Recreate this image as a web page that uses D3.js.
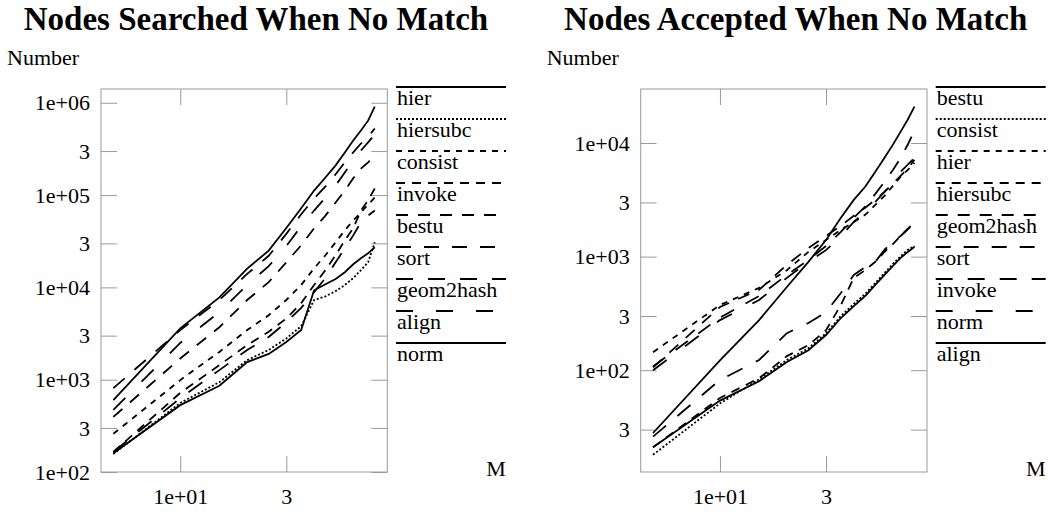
<!DOCTYPE html>
<html>
<head>
<meta charset="utf-8">
<script src="https://cdn.jsdelivr.net/npm/d3@7"></script>
<style>
  body { margin: 0; background: #fff; }
  svg text { font-family: "Liberation Serif", "Times New Roman", serif; fill: #000; }
</style>
</head>
<body>
<svg id="chart" width="1048" height="514"></svg>
<script>
// x values (M)
const mValues = [5, 10, 15, 20, 25, 30, 35, 40, 45, 50, 55, 60, 65, 70, 75]

// Nodes searched when no match
const searchedHier      = [600, 3600, 7800, 16000, 25000, 44000, 72000, 112000, 155000, 210000, 290000, 390000, 500000, 640000, 910000]
const searchedHiersubc  = [157, 560, 940, 1630, 2100, 2800, 3800, 7300, 8000, 9100, 10600, 12600, 15400, 18700, 30800]
const searchedConsist   = [260, 990, 2000, 3450, 5000, 7300, 10600, 16100, 22300, 30800, 41500, 53000, 65000, 79000, 94000]
const searchedInvoke    = [165, 720, 1440, 2370, 3300, 4600, 6750, 10600, 15400, 22300, 32400, 43600, 68000, 88000, 118000]
const searchedBestu     = [395, 1700, 3700, 7300, 11400, 18700, 28600, 43600, 60000, 83000, 112000, 152000, 194000, 226000, 268000]
const searchedSort      = [810, 3450, 7300, 14000, 22000, 38000, 62000, 92000, 124000, 168000, 226000, 290000, 362000, 430000, 526000]
const searchedGeom2hash = [165, 630, 1270, 2100, 2900, 4200, 6000, 8900, 12600, 18700, 26500, 36600, 50700, 60000, 68000]
const searchedAlign     = [470, 2500, 5400, 10600, 17000, 28000, 46000, 68000, 94000, 127000, 176000, 237000, 304000, 372000, 453000]
const searchedNorm      = [160, 530, 860, 1550, 1900, 2560, 3450, 9300, 10800, 12300, 14600, 17800, 20700, 23400, 27200]

// Nodes accepted when no match
const acceptedBestu     = [28, 122, 276, 540, 900, 1400, 2200, 3160, 4120, 5600, 7430, 9680, 12600, 16100, 20900]
const acceptedConsist   = [18, 51, 83, 123, 156, 212, 300, 383, 470, 586, 718, 862, 1010, 1150, 1240]
const acceptedHier      = [144, 375, 530, 760, 1100, 1400, 1720, 2020, 2330, 2860, 3430, 4200, 5050, 5800, 6700]
const acceptedHiersubc  = [21, 57, 85, 133, 166, 225, 375, 650, 760, 900, 1100, 1290, 1520, 1750, 1940]
const acceptedGeom2hash = [106, 360, 510, 845, 1190, 1520, 1870, 2290, 2690, 3160, 3720, 4400, 5150, 5950, 7130]
const acceptedSort      = [108, 290, 450, 690, 935, 1240, 1650, 2200, 2750, 3570, 4560, 5800, 7400, 9700, 12900]
const acceptedInvoke    = [26, 82, 123, 212, 260, 325, 478, 690, 810, 900, 1150, 1350, 1520, 1750, 2020]
const acceptedNorm      = [100, 276, 415, 650, 900, 1140, 1520, 2020, 2480, 3040, 3720, 4560, 5600, 6450, 7430]
const acceptedAlign     = [21, 54, 80, 118, 150, 204, 288, 367, 450, 563, 690, 830, 975, 1100, 1220]

// legend order (as printed)
const searchedNames = ["hier", "hiersubc", "consist", "invoke", "bestu", "sort", "geom2hash", "align", "norm"]
const acceptedNames = ["bestu", "consist", "hier", "hiersubc", "geom2hash", "sort", "invoke", "norm", "align"]

// tick values
const xTicks = [10, 30]
const searchedYTicks = [100, 300, 1000, 3000, 10000, 30000, 100000, 300000, 1000000]
const acceptedYTicks = [30, 100, 300, 1000, 3000, 10000]

/*************** line types, one per legend slot *********************/
const LINE_TYPES = [null, "2,2", "6,6", "9,7", "12,10", "15,13", "17,15", "17,23", null]

const panels = [
  {
    title: "Nodes Searched When No Match",
    offset: 0,
    yDomain: [100, 1.41e6],
    yTicks: searchedYTicks,
    names: searchedNames,
    values: {
      hier: searchedHier, hiersubc: searchedHiersubc, consist: searchedConsist,
      invoke: searchedInvoke, bestu: searchedBestu, sort: searchedSort,
      geom2hash: searchedGeom2hash, align: searchedAlign, norm: searchedNorm
    }
  },
  {
    title: "Nodes Accepted When No Match",
    offset: 539.7,
    yDomain: [12.7, 29900],
    yTicks: acceptedYTicks,
    names: acceptedNames,
    values: {
      bestu: acceptedBestu, consist: acceptedConsist, hier: acceptedHier,
      hiersubc: acceptedHiersubc, geom2hash: acceptedGeom2hash, sort: acceptedSort,
      invoke: acceptedInvoke, norm: acceptedNorm, align: acceptedAlign
    }
  }
]

const frame = {left: 101, top: 89, width: 286.3, height: 383}
const tickLen = 16
const frameColor = "#9a9a9a"
const fontSize = 22

function tickLabel(d){
  const p = Math.log10(d)
  if(Math.abs(p - Math.round(p)) < 1e-9){
    return "1e+" + String(Math.round(p)).padStart(2, "0")
  }
  return "3"
}

const svg = d3.select("#chart")
svg.append("rect").attr("width", 1048).attr("height", 514).attr("fill", "white")

panels.forEach(panel => {
  const g = svg.append("g").attr("transform", `translate(${panel.offset},0)`)

  const x = d3.scaleLog().domain([4.4, 85.4]).range([frame.left, frame.left + frame.width])
  const y = d3.scaleLog().domain(panel.yDomain).range([frame.top + frame.height, frame.top])

  // title + y label
  g.append("text")
    .attr("x", frame.left + 155)
    .attr("y", 30)
    .attr("text-anchor", "middle")
    .style("font-size", "33px")
    .style("font-weight", "bold")
    .text(panel.title)

  g.append("text")
    .attr("x", 7)
    .attr("y", 65)
    .style("font-size", fontSize + "px")
    .text("Number")

  // frame
  g.append("rect")
    .attr("x", frame.left).attr("y", frame.top)
    .attr("width", frame.width).attr("height", frame.height)
    .attr("fill", "none").attr("stroke", frameColor).attr("stroke-width", 1)

  // axes: inward ticks on all four sides, labels left and bottom
  const styleAxis = (sel) => {
    sel.select(".domain").remove()
    sel.selectAll(".tick line").attr("stroke", frameColor)
    sel.selectAll("text").style("font-size", fontSize + "px")
      .attr("font-family", null).attr("fill", "#000")
  }

  g.append("g")
    .attr("transform", `translate(${frame.left},0)`)
    .call(d3.axisLeft(y).tickValues(panel.yTicks).tickFormat(tickLabel)
      .tickSize(-tickLen).tickPadding(11))
    .call(styleAxis)
    .attr("font-family", null).attr("font-size", null)

  g.append("g")
    .attr("transform", `translate(${frame.left + frame.width},0)`)
    .call(d3.axisRight(y).tickValues(panel.yTicks).tickFormat("").tickSize(-tickLen))
    .call(styleAxis)

  g.append("g")
    .attr("transform", `translate(0,${frame.top + frame.height})`)
    .call(d3.axisBottom(x).tickValues(xTicks).tickFormat(tickLabel)
      .tickSize(-tickLen).tickPadding(16))
    .call(styleAxis)
    .attr("font-family", null).attr("font-size", null)

  g.append("g")
    .attr("transform", `translate(0,${frame.top})`)
    .call(d3.axisTop(x).tickValues(xTicks).tickFormat("").tickSize(-tickLen))
    .call(styleAxis)

  g.append("text")
    .attr("x", 496)
    .attr("y", 476)
    .attr("text-anchor", "middle")
    .style("font-size", fontSize + "px")
    .text("M")

  // series lines
  const line = d3.line()
    .x((d, i) => x(mValues[i]))
    .y(d => y(d))

  panel.names.forEach((name, i) => {
    g.append("path")
      .datum(panel.values[name])
      .attr("d", line)
      .attr("fill", "none")
      .attr("stroke", "#000")
      .attr("stroke-width", 1.8)
      .attr("stroke-dasharray", LINE_TYPES[i])
  })

  // legend: line above each label
  const legend = g.append("g").attr("transform", "translate(396,87)")
  panel.names.forEach((name, i) => {
    legend.append("line")
      .attr("x1", 0).attr("x2", 110)
      .attr("y1", i * 32).attr("y2", i * 32)
      .attr("stroke", "#000")
      .attr("stroke-width", 2)
      .attr("stroke-dasharray", LINE_TYPES[i])
    legend.append("text")
      .attr("x", 1)
      .attr("y", i * 32 + 17.5)
      .style("font-size", fontSize + "px")
      .text(name)
  })
})
</script>
</body>
</html>
